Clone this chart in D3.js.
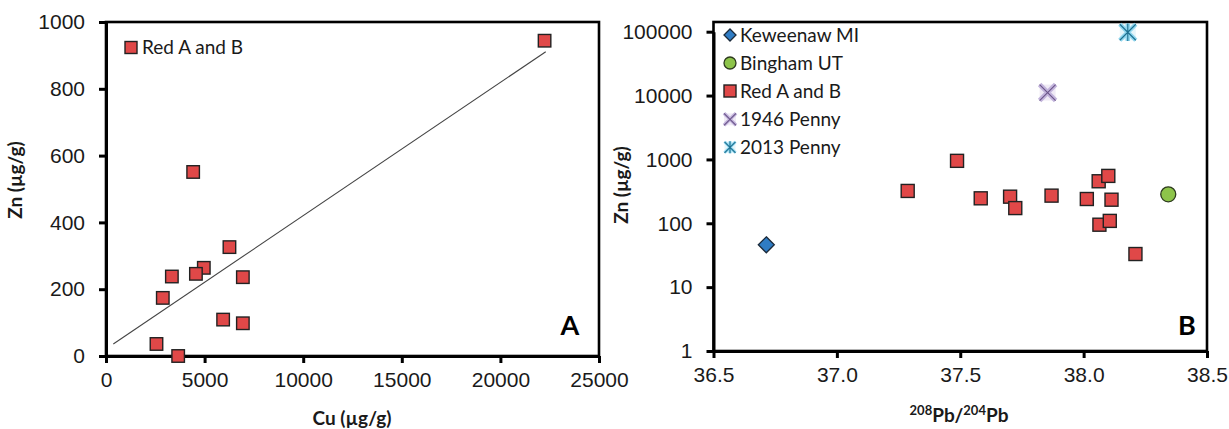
<!DOCTYPE html>
<meta charset="utf-8">
<style>
body { margin: 0; background: #fff; }
svg { font-family: Lato, "Open Sans", sans-serif; }
.axis text { font-size: 21px; fill: #1a1a1a; }
.axis path, .axis line { stroke: #000; stroke-width: 3px; }
.frame { fill: none; stroke: #000; stroke-width: 2.6px; }
.title { font-size: 19px; font-weight: bold; fill: #1a1a1a; }
.legend text { font-size: 19px; fill: #1a1a1a; }
.red { fill: #e04848; stroke: #222; stroke-width: 1.4px; }
</style>
<svg width="1229" height="429"></svg>
<script src="https://d3js.org/d3.v7.min.js"></script>
<script>

// ---- panel A data : Cu vs Zn (Red A and B)
var cuA = [22240, 4420, 6260, 4960, 4560, 3340, 6940, 2880, 5940, 6940, 2560, 3660];
var znA = [944, 551, 326, 264, 246, 238, 236, 174, 109, 98, 36, 0];
var trendCu = [370, 22300];
var trendZn = [36, 911];
var xTicksA = [0, 5000, 10000, 15000, 20000, 25000];
var yTicksA = [0, 200, 400, 600, 800, 1000];

// ---- panel B data : 208Pb/204Pb vs Zn
var pbRed = [37.487, 37.287, 37.583, 37.702, 37.723, 37.870, 38.013, 38.061, 38.100, 38.113, 38.064, 38.106, 38.210];
var znRed = [950, 321, 246, 261, 173, 271, 240, 455, 552, 234, 95, 109, 33];
var pbKeweenaw = [36.714], znKeweenaw = [46];
var pbBingham = [38.343], znBingham = [284];
var pb1946 = [37.854], zn1946 = [11150];
var pb2013 = [38.179], zn2013 = [98000];
var xTicksB = [36.5, 37.0, 37.5, 38.0, 38.5];
var yTicksB = [1, 10, 100, 1000, 10000, 100000];
var legendB = ["Keweenaw MI", "Bingham UT", "Red A and B", "1946 Penny", "2013 Penny"];

var svg = d3.select("svg");

// ================= panel A =================
var xA = d3.scaleLinear().domain([0, 25000]).range([106, 599]);
var yA = d3.scaleLinear().domain([0, 1000]).range([356, 22]);

var gA = svg.append("g");
gA.append("rect").attr("class", "frame")
  .attr("x", xA(0)).attr("y", yA(1000))
  .attr("width", xA(25000) - xA(0)).attr("height", yA(0) - yA(1000));

gA.append("g").attr("class", "axis")
  .attr("transform", "translate(0," + yA(0) + ")")
  .call(d3.axisBottom(xA).tickValues(xTicksA).tickFormat(d3.format("d"))
        .tickSize(7).tickSizeOuter(0).tickPadding(9));
gA.append("g").attr("class", "axis")
  .attr("transform", "translate(" + xA(0) + ",0)")
  .call(d3.axisLeft(yA).tickValues(yTicksA).tickFormat(d3.format("d"))
        .tickSize(7).tickSizeOuter(0).tickPadding(14));

gA.append("line")
  .attr("x1", xA(trendCu[0])).attr("y1", yA(trendZn[0]))
  .attr("x2", xA(trendCu[1])).attr("y2", yA(trendZn[1]))
  .style("stroke", "#444").style("stroke-width", "1.1");

var sq = 12.5;
gA.selectAll(".pa").data(cuA).enter().append("rect")
  .attr("class", "red")
  .attr("x", function(d) { return xA(d) - sq / 2; })
  .attr("y", function(d, i) { return yA(znA[i]) - sq / 2; })
  .attr("width", sq).attr("height", sq);

var legA = gA.append("g").attr("class", "legend");
legA.append("rect").attr("class", "red").attr("x", 125).attr("y", 41.5).attr("width", 12).attr("height", 12);
legA.append("text").attr("x", 142).attr("y", 47.5).attr("dy", "0.35em").text("Red A and B");

gA.append("text").attr("x", 570).attr("y", 325).attr("dy", "0.36em")
  .attr("text-anchor", "middle").style("font-size", "27px").style("font-weight", "bold").text("A");

gA.append("text").attr("class", "title")
  .attr("transform", "translate(22,180) rotate(-90)")
  .attr("text-anchor", "middle").text("Zn (µg/g)");
gA.append("text").attr("class", "title")
  .attr("x", 352).attr("y", 425).attr("text-anchor", "middle").text("Cu (µg/g)");

// ================= panel B =================
var xB = d3.scaleLinear().domain([36.5, 38.5]).range([713.5, 1207]);
var yB = d3.scaleLog().domain([1, 100000]).range([351, 31.7]);

var gB = svg.append("g");
gB.append("rect").attr("class", "frame")
  .attr("x", xB(36.5)).attr("y", 22)
  .attr("width", xB(38.5) - xB(36.5)).attr("height", yB(1) - 22);

gB.append("g").attr("class", "axis")
  .attr("transform", "translate(0," + yB(1) + ")")
  .call(d3.axisBottom(xB).tickValues(xTicksB).tickFormat(d3.format(".1f"))
        .tickSize(7).tickSizeOuter(0).tickPadding(9));
gB.append("g").attr("class", "axis")
  .attr("transform", "translate(" + xB(36.5) + ",0)")
  .call(d3.axisLeft(yB).tickValues(yTicksB).tickFormat(d3.format("d"))
        .tickSize(7).tickSizeOuter(0).tickPadding(14));

// marker drawers
function diamond(g, x, y, r) {
  g.append("path")
    .attr("d", "M" + x + "," + (y - r) + "L" + (x + r) + "," + y + "L" + x + "," + (y + r) + "L" + (x - r) + "," + y + "Z")
    .style("fill", "#2f7cc4").style("stroke", "#1b2a3a").style("stroke-width", 1.3);
}
function circle(g, x, y, r) {
  g.append("circle").attr("cx", x).attr("cy", y).attr("r", r)
    .style("fill", "#8dc44a").style("stroke", "#2d3a1e").style("stroke-width", 1.3);
}
function square(g, x, y, s) {
  g.append("rect").attr("class", "red").attr("x", x - s / 2).attr("y", y - s / 2)
    .attr("width", s).attr("height", s);
}
function cross(g, x, y, r) {
  var d = "M" + (x - r) + "," + (y - r) + "L" + (x + r) + "," + (y + r) +
          "M" + (x - r) + "," + (y + r) + "L" + (x + r) + "," + (y - r);
  g.append("rect").attr("x", x - r).attr("y", y - r).attr("width", 2 * r).attr("height", 2 * r)
    .style("fill", "#e6def0").style("opacity", 0.6);
  g.append("path").attr("d", d).style("stroke", "#c3b5dc").style("stroke-width", r * 0.6);
  g.append("path").attr("d", d).style("stroke", "#6a5488").style("stroke-width", 1.1);
}
function star(g, x, y, r) {
  var d = "M" + (x - r) + "," + (y - r) + "L" + (x + r) + "," + (y + r) +
          "M" + (x - r) + "," + (y + r) + "L" + (x + r) + "," + (y - r) +
          "M" + x + "," + (y - r * 1.1) + "L" + x + "," + (y + r * 1.1);
  g.append("rect").attr("x", x - r).attr("y", y - r).attr("width", 2 * r).attr("height", 2 * r)
    .style("fill", "#d5eef7").style("opacity", 0.6);
  g.append("path").attr("d", d).style("stroke", "#8fd6ee").style("stroke-width", r * 0.55);
  g.append("path").attr("d", d).style("stroke", "#1d6f8f").style("stroke-width", 1.1);
}

pbKeweenaw.forEach(function(d, i) { diamond(gB, xB(d), yB(znKeweenaw[i]), 8); });
pbBingham.forEach(function(d, i) { circle(gB, xB(d), yB(znBingham[i]), 7.5); });
pbRed.forEach(function(d, i) { square(gB, xB(d), yB(znRed[i]), 13); });
pb1946.forEach(function(d, i) { cross(gB, xB(d), yB(zn1946[i]), 8); });
pb2013.forEach(function(d, i) { star(gB, xB(d), yB(zn2013[i]), 8); });

// legend B
var legB = gB.append("g").attr("class", "legend");
var rowY = [35, 63, 91, 119.3, 147.3];
var drawers = [
  function(y) { diamond(legB, 730, y, 6); },
  function(y) { circle(legB, 730, y, 6); },
  function(y) { square(legB, 730, y, 12); },
  function(y) { cross(legB, 730, y, 6); },
  function(y) { star(legB, 730, y, 5.5); }
];
legendB.forEach(function(name, i) {
  drawers[i](rowY[i]);
  legB.append("text").attr("x", 740).attr("y", rowY[i]).attr("dy", "0.35em").text(name);
});

gB.append("text").attr("x", 1187).attr("y", 325).attr("dy", "0.36em")
  .attr("text-anchor", "middle").style("font-size", "27px").style("font-weight", "bold").text("B");

gB.append("text").attr("class", "title")
  .attr("transform", "translate(628,185) rotate(-90)")
  .attr("text-anchor", "middle").text("Zn (µg/g)");

var tB = gB.append("text").attr("class", "title")
  .attr("x", 959).attr("y", 422).attr("text-anchor", "middle");
tB.append("tspan").attr("dy", "-7").style("font-size", "13px").text("208");
tB.append("tspan").attr("dy", "7").text("Pb/");
tB.append("tspan").attr("dy", "-7").style("font-size", "13px").text("204");
tB.append("tspan").attr("dy", "7").text("Pb");

</script>
